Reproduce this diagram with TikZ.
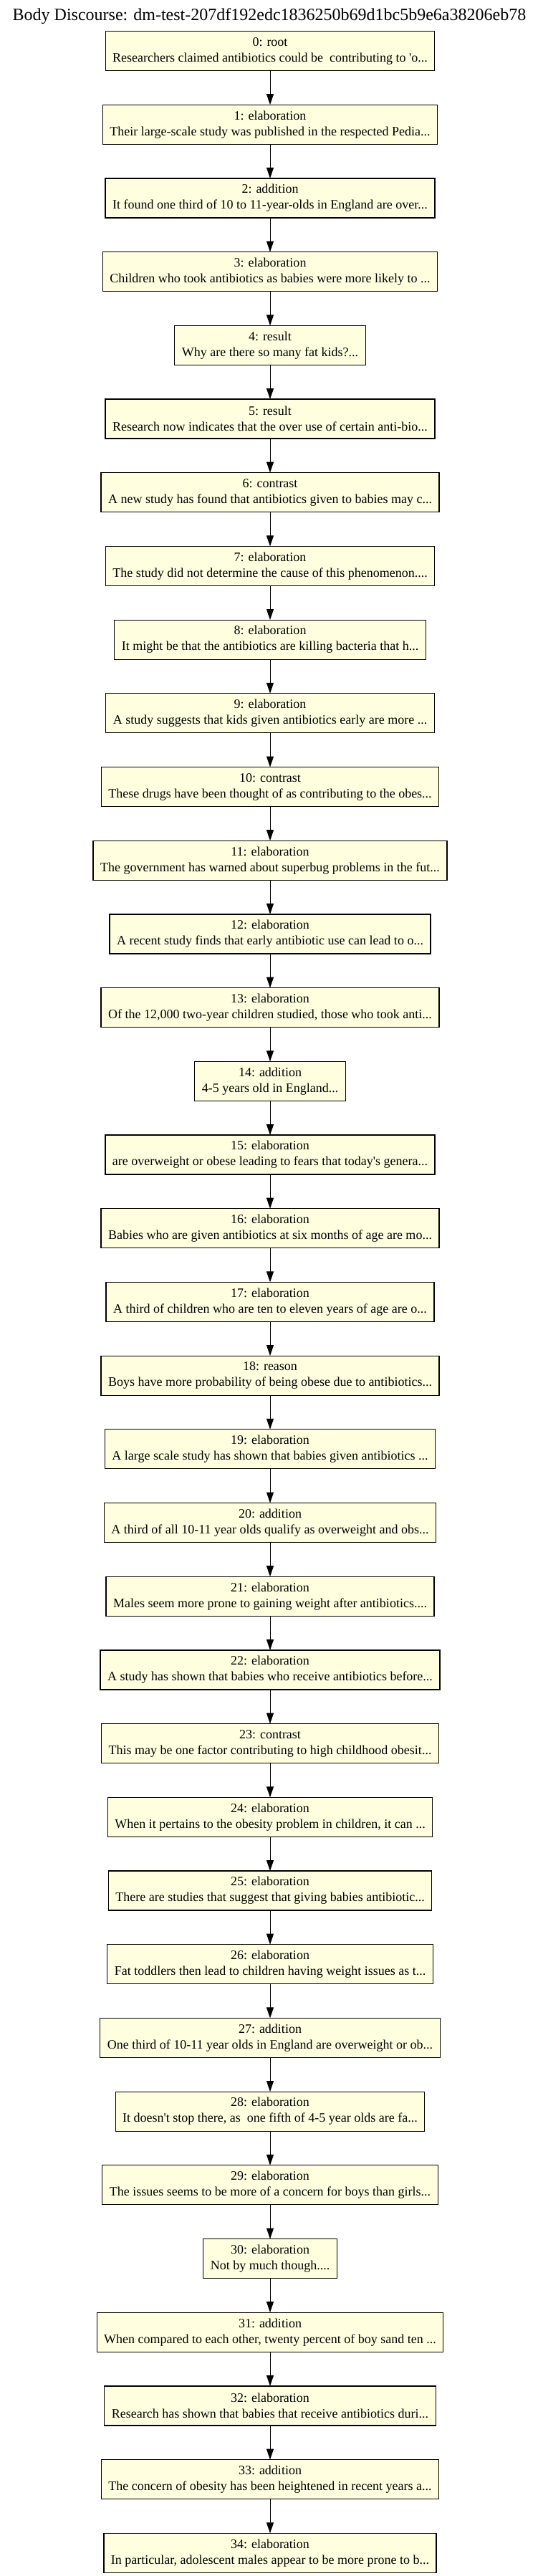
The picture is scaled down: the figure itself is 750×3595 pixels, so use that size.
\documentclass[tikz,border=0pt]{standalone}
\usepackage{fontspec}
\setmainfont{Liberation Serif}
\usetikzlibrary{positioning,arrows.meta}
\definecolor{giallino}{HTML}{FFFFE0}
\begin{document}
\begin{tikzpicture}[x=1pt, y=1pt, font=\fontsize{18}{22}\selectfont]

        % Stili per i riquadri e le frecce
        \tikzstyle{nodo}=[draw=black, fill=giallino, line width=1.2pt, outer sep=0pt, minimum height=55pt, inner xsep=10pt, inner ysep=4pt, align=center]
        \tikzstyle{freccia}=[-{Triangle[length=15pt,width=10pt]}, line width=1pt]

        % Dimensioni della pagina
        \useasboundingbox (0,0) rectangle (750,-3595);

        % Titolo
        \node (titolo) at (376,-23) {\fontsize{24}{28}\selectfont Body Discourse: dm-test-207df192edc1836250b69d1bc5b9e6a38206eb78};

        % Catena dei segmenti del discorso
        \node[nodo] (n0) at (377,-71) {0: root\\Researchers claimed antibiotics could be\ \ contributing to \textquotesingle o...};
        \node[nodo, below=47.7pt of n0] (n1) {1: elaboration\\Their large-scale study was published in the respected Pedia...};
        \node[nodo, below=47.7pt of n1] (n2) {2: addition\\It found one third of 10 to 11-year-olds in England are over...};
        \node[nodo, below=47.7pt of n2] (n3) {3: elaboration\\Children who took antibiotics as babies were more likely to ...};
        \node[nodo, below=47.7pt of n3] (n4) {4: result\\Why are there so many fat kids?...};
        \node[nodo, below=47.7pt of n4] (n5) {5: result\\Research now indicates that the over use of certain anti-bio...};
        \node[nodo, below=47.7pt of n5] (n6) {6: contrast\\A new study has found that antibiotics given to babies may c...};
        \node[nodo, below=47.7pt of n6] (n7) {7: elaboration\\The study did not determine the cause of this phenomenon....};
        \node[nodo, below=47.7pt of n7] (n8) {8: elaboration\\It might be that the antibiotics are killing bacteria that h...};
        \node[nodo, below=47.7pt of n8] (n9) {9: elaboration\\A study suggests that kids given antibiotics early are more ...};
        \node[nodo, below=47.7pt of n9] (n10) {10: contrast\\These drugs have been thought of as contributing to the obes...};
        \node[nodo, below=47.7pt of n10] (n11) {11: elaboration\\The government has warned about superbug problems in the fut...};
        \node[nodo, below=47.7pt of n11] (n12) {12: elaboration\\A recent study finds that early antibiotic use can lead to o...};
        \node[nodo, below=47.7pt of n12] (n13) {13: elaboration\\Of the 12,000 two-year children studied, those who took anti...};
        \node[nodo, below=47.7pt of n13] (n14) {14: addition\\4-5 years old in England...};
        \node[nodo, below=47.7pt of n14] (n15) {15: elaboration\\are overweight or obese leading to fears that today\textquotesingle s genera...};
        \node[nodo, below=47.7pt of n15] (n16) {16: elaboration\\Babies who are given antibiotics at six months of age are mo...};
        \node[nodo, below=47.7pt of n16] (n17) {17: elaboration\\A third of children who are ten to eleven years of age are o...};
        \node[nodo, below=47.7pt of n17] (n18) {18: reason\\Boys have more probability of being obese due to antibiotics...};
        \node[nodo, below=47.7pt of n18] (n19) {19: elaboration\\A large scale study has shown that babies given antibiotics ...};
        \node[nodo, below=47.7pt of n19] (n20) {20: addition\\A third of all 10-11 year olds qualify as overweight and obs...};
        \node[nodo, below=47.7pt of n20] (n21) {21: elaboration\\Males seem more prone to gaining weight after antibiotics....};
        \node[nodo, below=47.7pt of n21] (n22) {22: elaboration\\A study has shown that babies who receive antibiotics before...};
        \node[nodo, below=47.7pt of n22] (n23) {23: contrast\\This may be one factor contributing to high childhood obesit...};
        \node[nodo, below=47.7pt of n23] (n24) {24: elaboration\\When it pertains to the obesity problem in children, it can ...};
        \node[nodo, below=47.7pt of n24] (n25) {25: elaboration\\There are studies that suggest that giving babies antibiotic...};
        \node[nodo, below=47.7pt of n25] (n26) {26: elaboration\\Fat toddlers then lead to children having weight issues as t...};
        \node[nodo, below=47.7pt of n26] (n27) {27: addition\\One third of 10-11 year olds in England are overweight or ob...};
        \node[nodo, below=47.7pt of n27] (n28) {28: elaboration\\It doesn\textquotesingle t stop there, as\ \ one fifth of 4-5 year olds are fa...};
        \node[nodo, below=47.7pt of n28] (n29) {29: elaboration\\The issues seems to be more of a concern for boys than girls...};
        \node[nodo, below=47.7pt of n29] (n30) {30: elaboration\\Not by much though....};
        \node[nodo, below=47.7pt of n30] (n31) {31: addition\\When compared to each other, twenty percent of boy sand ten ...};
        \node[nodo, below=47.7pt of n31] (n32) {32: elaboration\\Research has shown that babies that receive antibiotics duri...};
        \node[nodo, below=47.7pt of n32] (n33) {33: addition\\The concern of obesity has been heightened in recent years a...};
        \node[nodo, below=47.7pt of n33] (n34) {34: elaboration\\In particular, adolescent males appear to be more prone to b...};

        % Frecce tra i segmenti
        \draw[freccia] (n0) -- (n1);
        \draw[freccia] (n1) -- (n2);
        \draw[freccia] (n2) -- (n3);
        \draw[freccia] (n3) -- (n4);
        \draw[freccia] (n4) -- (n5);
        \draw[freccia] (n5) -- (n6);
        \draw[freccia] (n6) -- (n7);
        \draw[freccia] (n7) -- (n8);
        \draw[freccia] (n8) -- (n9);
        \draw[freccia] (n9) -- (n10);
        \draw[freccia] (n10) -- (n11);
        \draw[freccia] (n11) -- (n12);
        \draw[freccia] (n12) -- (n13);
        \draw[freccia] (n13) -- (n14);
        \draw[freccia] (n14) -- (n15);
        \draw[freccia] (n15) -- (n16);
        \draw[freccia] (n16) -- (n17);
        \draw[freccia] (n17) -- (n18);
        \draw[freccia] (n18) -- (n19);
        \draw[freccia] (n19) -- (n20);
        \draw[freccia] (n20) -- (n21);
        \draw[freccia] (n21) -- (n22);
        \draw[freccia] (n22) -- (n23);
        \draw[freccia] (n23) -- (n24);
        \draw[freccia] (n24) -- (n25);
        \draw[freccia] (n25) -- (n26);
        \draw[freccia] (n26) -- (n27);
        \draw[freccia] (n27) -- (n28);
        \draw[freccia] (n28) -- (n29);
        \draw[freccia] (n29) -- (n30);
        \draw[freccia] (n30) -- (n31);
        \draw[freccia] (n31) -- (n32);
        \draw[freccia] (n32) -- (n33);
        \draw[freccia] (n33) -- (n34);

    \end{tikzpicture}
\end{document}
